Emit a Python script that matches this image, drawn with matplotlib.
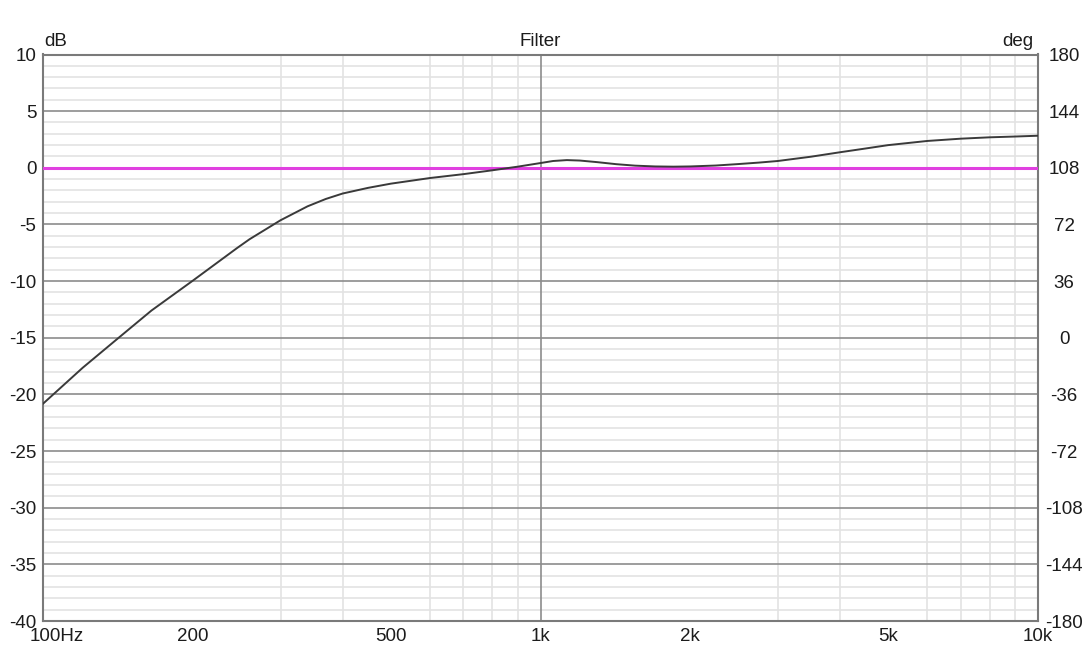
import numpy as np
import matplotlib
matplotlib.use("Agg")
import matplotlib.pyplot as plt
from matplotlib.ticker import FixedLocator, LogLocator, NullFormatter, MultipleLocator
from matplotlib.transforms import ScaledTranslation

plt.rcParams['font.family'] = ['Liberation Sans', 'DejaVu Sans']
plt.rcParams['axes.unicode_minus'] = False

# данные кривой фильтра (частота, Гц -> уровень, дБ)
freq_hz = [100, 120, 140, 165, 200, 245, 260, 300, 340, 370, 400, 450, 500,
           600, 700, 800, 900, 1000, 1060, 1130, 1200, 1300, 1420, 1550, 1700,
           1850, 2000, 2250, 2500, 2750, 3000, 3500, 4000, 4500, 5000, 6000,
           7000, 8000, 9000, 10000]
level_db = [-20.8, -17.65, -15.2, -12.6, -9.95, -7.1, -6.3, -4.63, -3.4,
            -2.75, -2.27, -1.77, -1.4, -0.9, -0.56, -0.22, 0.1, 0.42, 0.6,
            0.68, 0.64, 0.5, 0.32, 0.19, 0.12, 0.1, 0.12, 0.2, 0.33, 0.46,
            0.6, 0.98, 1.37, 1.7, 2.0, 2.37, 2.57, 2.69, 2.76, 2.83]
ref_level_db = 0.0

x_ticks = [100, 200, 500, 1000, 2000, 5000, 10000]
x_labels = ['100Hz', '200', '500', '1k', '2k', '5k', '10k']
db_ticks = list(range(-40, 11, 5))
deg_ticks = list(range(-180, 181, 36))

text_color = '#1c1c1c'
major_grid = '#8c8c8c'
minor_grid = '#e3e3e3'
fsize = 13.5

fig = plt.figure(figsize=(10.91, 6.55), dpi=100)
ax = fig.add_axes([43.3 / 1091, 1 - 621 / 655, 994.4 / 1091, 566.5 / 655])

ax.set_xscale('log')
ax.set_xlim(100, 10000)
ax.set_ylim(-40, 10)

ax.xaxis.set_major_locator(FixedLocator(x_ticks))
ax.set_xticklabels(x_labels)
ax.xaxis.set_minor_locator(LogLocator(base=10, subs=np.arange(2, 10)))
ax.xaxis.set_minor_formatter(NullFormatter())
ax.yaxis.set_major_locator(FixedLocator(db_ticks))
ax.yaxis.set_minor_locator(MultipleLocator(1))

ax.grid(False)
ax.grid(True, which='minor', axis='both', color=minor_grid, lw=1.2)
ax.grid(True, which='major', axis='y', color=major_grid, lw=1.2)
ax.axvline(1000, color=major_grid, lw=1.2, zorder=2)

ax.tick_params(which='both', length=0)
ax.tick_params(axis='y', pad=5, labelsize=fsize, labelcolor=text_color)
ax.tick_params(axis='x', pad=5, labelsize=fsize, labelcolor=text_color)
for spine in ax.spines.values():
    spine.set_color('#7a7a7a')
    spine.set_linewidth(1.5)

# подпись 100Hz сдвинута вправо, как в оригинале
first_lbl = ax.get_xticklabels()[0]
first_lbl.set_transform(first_lbl.get_transform()
                        + ScaledTranslation(13 / 100, 0, fig.dpi_scale_trans))

ax.axhline(ref_level_db, color='#e040e0', lw=2.2, zorder=3)
ax.plot(freq_hz, level_db, color='#3a3a3a', lw=1.4, zorder=4)

# правая ось фазы
ax2 = ax.twinx()
ax2.set_ylim(-180, 180)
ax2.yaxis.set_major_locator(FixedLocator(deg_ticks))
ax2.tick_params(length=0, pad=19, labelsize=fsize, labelcolor=text_color)
for lbl in ax2.get_yticklabels():
    lbl.set_horizontalalignment('center')
for spine in ax2.spines.values():
    spine.set_visible(False)

fig.text(56 / 1091, 1 - 41 / 655, 'dB', ha='center', va='center',
         fontsize=fsize, color=text_color)
fig.text(1018 / 1091, 1 - 41 / 655, 'deg', ha='center', va='center',
         fontsize=fsize, color=text_color)
fig.text(540 / 1091, 1 - 41 / 655, 'Filter', ha='center', va='center',
         fontsize=fsize, color=text_color)

fig.savefig('out.png', dpi=100, facecolor='white')
